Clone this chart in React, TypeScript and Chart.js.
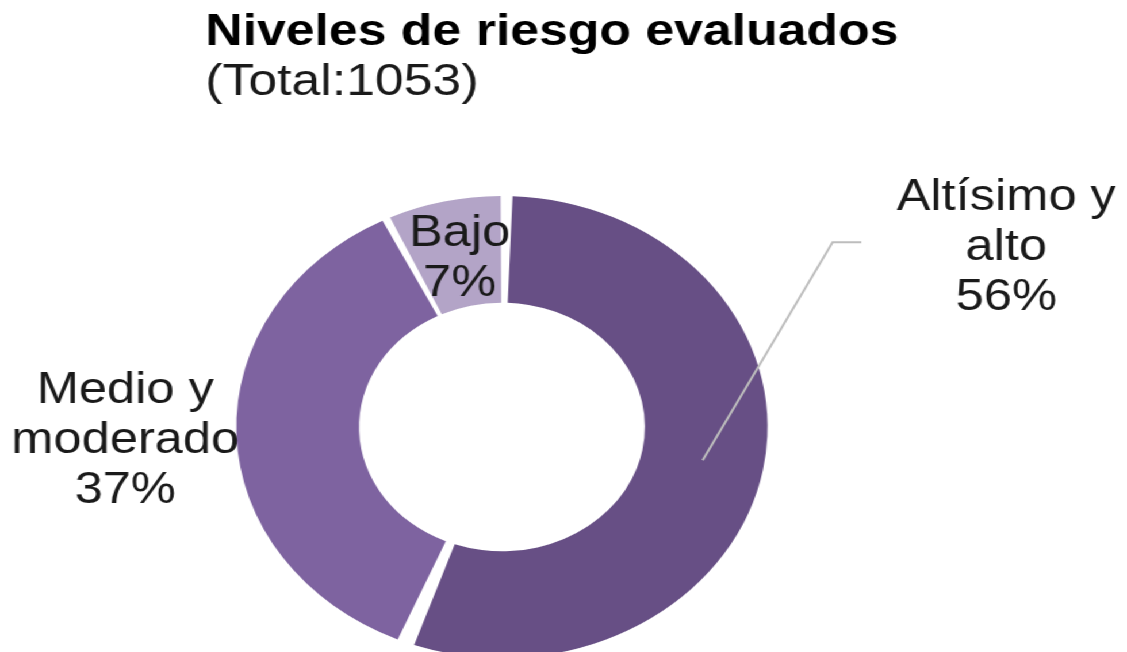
import { useEffect, useRef } from "react";
import { Chart, registerables } from "chart.js";

Chart.register(...registerables);

// ---- data ----
const categories = ["Altísimo y alto", "Medio y moderado", "Bajo"];
const labelLines = [["Altísimo y", "alto"], ["Medio y", "moderado"], ["Bajo"]];
const values = [56, 37, 7];
const colors = ["#674F85", "#7E63A0", "#B3A4C7"];
const titleText = "Niveles de riesgo evaluados";
const subtitleText = "(Total:1053)";

// ---- style / layout ----
const SX = 1.15; // horizontal stretch of the reference
const W = 980;
const H = 720;
const SPACING = 8;
const FONT = "'Liberation Sans', Arial, sans-serif";
// label first-baseline offsets from each slice centroid
const labelOffsets = [
  [264, -250],
  [-150, -30],
  [2, -8],
];
// leader lines (elbow, end) offsets from slice centroid; null = none
const leaders: (number[][] | null)[] = [
  [
    [113, -218],
    [138, -218],
  ],
  null,
  null,
];

const labelPlugin = {
  id: "sliceLabels",
  afterDraw(chart: any) {
    const ctx = chart.ctx as CanvasRenderingContext2D;
    const meta = chart.getDatasetMeta(0);
    const total = values.reduce((a, b) => a + b, 0);
    ctx.save();
    // titles
    ctx.fillStyle = "#000";
    ctx.textAlign = "left";
    ctx.textBaseline = "alphabetic";
    ctx.font = `bold 45px ${FONT}`;
    ctx.fillText(titleText, 178.5, 45);
    ctx.fillStyle = "#1a1a1a";
    ctx.font = `45px ${FONT}`;
    ctx.fillText(subtitleText, 178.5, 95);

    meta.data.forEach((arc: any, i: number) => {
      const p = arc.getProps(["x", "y", "startAngle", "endAngle", "innerRadius", "outerRadius"], true);
      const mid = (p.startAngle + p.endAngle) / 2;
      const r = (p.innerRadius + p.outerRadius) / 2 + SPACING / 2;
      const cx = p.x + Math.cos(mid) * r;
      const cy = p.y + Math.sin(mid) * r;
      const ld = leaders[i];
      if (ld) {
        ctx.strokeStyle = "#BDBDBD";
        ctx.lineWidth = 2;
        ctx.beginPath();
        ctx.moveTo(cx, cy);
        ld.forEach((pt) => ctx.lineTo(cx + pt[0], cy + pt[1]));
        ctx.stroke();
      }
      const pct = Math.round((values[i] / total) * 100) + "%";
      const lines = [...labelLines[i], pct];
      ctx.fillStyle = "#1a1a1a";
      ctx.textAlign = "center";
      ctx.font = `44px ${FONT}`;
      const lx = cx + labelOffsets[i][0];
      const ly = cy + labelOffsets[i][1];
      lines.forEach((t, k) => ctx.fillText(t, lx, ly + k * 50));
    });
    ctx.restore();
  },
};

export default function App() {
  const ref = useRef<HTMLCanvasElement | null>(null);
  useEffect(() => {
    if (!ref.current) return;
    const chart = new Chart(ref.current, {
      type: "doughnut",
      data: {
        labels: categories,
        datasets: [
          {
            data: values,
            backgroundColor: colors,
            borderWidth: 0,
            spacing: SPACING,
          },
        ],
      },
      options: {
        responsive: false,
        animation: false,
        devicePixelRatio: 1,
        cutout: "53%",
        layout: {
          padding: { left: 205.5, top: 196, right: 312.5, bottom: 62 },
        },
        plugins: {
          legend: { display: false },
          tooltip: { enabled: false },
          title: { display: false },
        },
        events: [],
      },
      plugins: [labelPlugin],
    } as any);
    return () => chart.destroy();
  }, []);
  return (
    <div
      style={{
        position: "fixed",
        left: 0,
        top: 0,
        width: W,
        height: H,
        transform: `scaleX(${SX})`,
        transformOrigin: "0 0",
        background: "#fff",
      }}
    >
      <canvas ref={ref} width={W} height={H} />
    </div>
  );
}
